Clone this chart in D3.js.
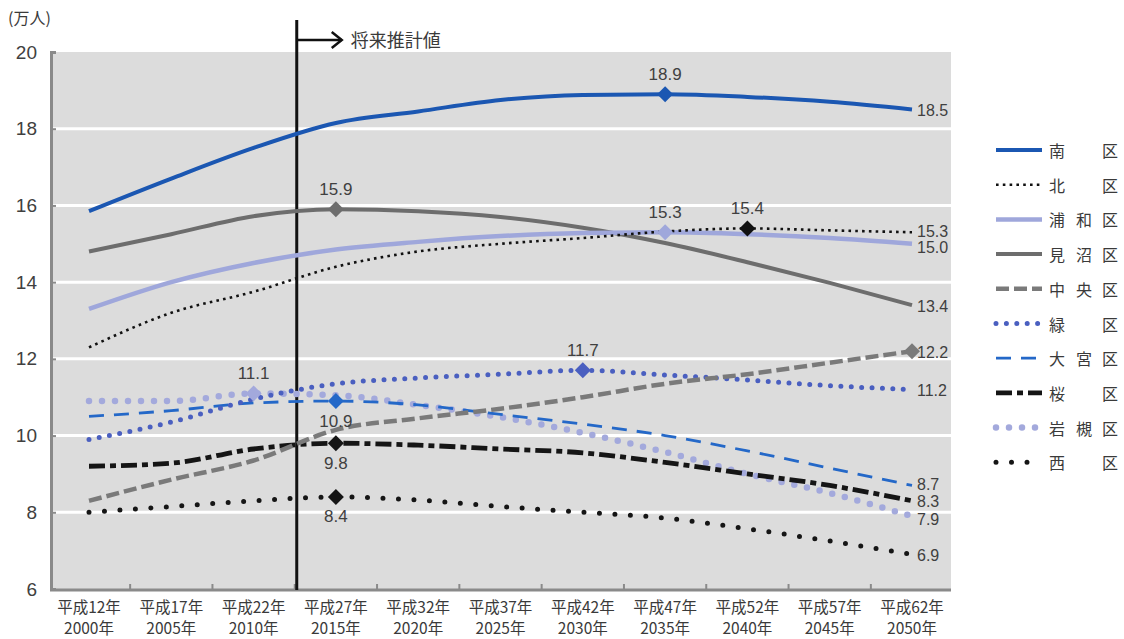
<!DOCTYPE html>
<html lang="ja">
<head>
<meta charset="utf-8">
<script src="https://cdn.jsdelivr.net/npm/d3@7/dist/d3.min.js"></script>
<style>
  html, body { margin: 0; padding: 0; background: #ffffff; }
  svg { display: block; }
  .num { font-family: "Liberation Sans", Arial, sans-serif; fill: #404040; }
  .jp { font-family: "Noto Sans CJK JP", "Noto Sans", sans-serif; fill: #3a3a3a; }
</style>
</head>
<body>
<svg id="chart" width="1124" height="639"></svg>
<script>
// Years on the x axis and their two-line labels
const years = ["2000", "2005", "2010", "2015", "2020", "2025", "2030", "2035", "2040", "2045", "2050"];
const eraLabels = ["平成12年", "平成17年", "平成22年", "平成27年", "平成32年", "平成37年", "平成42年", "平成47年", "平成52年", "平成57年", "平成62年"];
const yearLabels = ["2000年", "2005年", "2010年", "2015年", "2020年", "2025年", "2030年", "2035年", "2040年", "2045年", "2050年"];
const yTicks = [6, 8, 10, 12, 14, 16, 18, 20];

// Population by ward (10,000 persons)
const minami  = [15.85, 16.7, 17.5, 18.15, 18.45, 18.75, 18.88, 18.9, 18.83, 18.7, 18.5];
const kita    = [12.3, 13.2, 13.75, 14.4, 14.8, 15.0, 15.15, 15.32, 15.4, 15.35, 15.3];
const urawa   = [13.3, 14.0, 14.5, 14.85, 15.05, 15.2, 15.28, 15.3, 15.25, 15.15, 15.0];
const minuma  = [14.8, 15.25, 15.72, 15.9, 15.85, 15.7, 15.42, 15.02, 14.52, 13.98, 13.4];
const chuo    = [8.3, 8.85, 9.35, 10.15, 10.45, 10.7, 11.0, 11.35, 11.6, 11.9, 12.2];
const midori  = [9.9, 10.35, 10.95, 11.35, 11.5, 11.6, 11.7, 11.58, 11.45, 11.3, 11.2];
const omiya   = [10.5, 10.65, 10.85, 10.9, 10.8, 10.55, 10.3, 10.0, 9.6, 9.15, 8.7];
const sakura  = [9.2, 9.28, 9.65, 9.8, 9.75, 9.65, 9.55, 9.3, 9.0, 8.7, 8.3];
const iwatsuki = [10.9, 10.9, 11.1, 11.05, 10.8, 10.48, 10.07, 9.57, 9.0, 8.5, 7.9];
const nishi   = [8.0, 8.15, 8.3, 8.4, 8.32, 8.15, 8.0, 7.85, 7.57, 7.25, 6.9];

// Ward names as shown in the legend (first char, middle char, 区)
const wardNames = [["南", "", "区"], ["北", "", "区"], ["浦", "和", "区"], ["見", "沼", "区"], ["中", "央", "区"],
                   ["緑", "", "区"], ["大", "宮", "区"], ["桜", "", "区"], ["岩", "槻", "区"], ["西", "", "区"]];

// Highlighted points (year index) and where their value label sits
const highlightIndex = [7, 8, 7, 3, 10, 6, 3, 3, 2, 3];
const highlightPlace = ["above", "above", "above", "above", "right", "above", "below", "below", "above", "below"];

const seriesValues = [minami, kita, urawa, minuma, chuo, midori, omiya, sakura, iwatsuki, nishi];

// Line styles per ward
const styles = [
  { color: "#1b57b2", width: 4,   dash: null,        cap: "butt" },
  { color: "#111111", width: 2.6, dash: "2.6,4.2",   cap: "butt" },
  { color: "#9fa7db", width: 4.5, dash: null,        cap: "butt" },
  { color: "#6d6d6d", width: 4,   dash: null,        cap: "butt" },
  { color: "#7a7a7a", width: 4.5, dash: "13,5",      cap: "butt" },
  { color: "#4a5fc0", width: 5,   dash: "0,10.4",    cap: "round" },
  { color: "#2468c8", width: 2.8, dash: "15,10",     cap: "butt" },
  { color: "#151515", width: 4.8, dash: "16,5,6,5",  cap: "butt" },
  { color: "#a3a9dc", width: 6.5, dash: "0,13",      cap: "round" },
  { color: "#151515", width: 5,   dash: "0,15.5",    cap: "round" }
];

// Small vertical shifts so that crowded end labels stay apart
const endLabelShift = [1, -1, 4, 1, 1, 1, -1, 1, 3, 1];

const svg = d3.select("#chart");

const x = d3.scalePoint().domain(years).range([89, 912]);
const y = d3.scaleLinear().domain([6, 20]).range([589, 52]);

const plotLeft = 53, plotRight = 951;

// Plot background
svg.append("rect")
  .attr("x", plotLeft).attr("y", y(20))
  .attr("width", plotRight - plotLeft).attr("height", y(6) - y(20))
  .attr("fill", "#dcdcdc");

// White horizontal gridlines
svg.append("g").selectAll("line")
  .data(yTicks.filter(d => d > 6 && d < 20))
  .join("line")
  .attr("x1", plotLeft).attr("x2", plotRight)
  .attr("y1", d => y(d)).attr("y2", d => y(d))
  .attr("stroke", "#ffffff").attr("stroke-width", 3);

// Y axis with short inward ticks
const yAxis = d3.axisRight(y).tickValues(yTicks).tickSize(5).tickFormat("");
const gy = svg.append("g").attr("transform", `translate(${plotLeft - 2},0)`).call(yAxis);
gy.select(".domain").attr("stroke", "#8a8a8a").attr("stroke-width", 3);
gy.selectAll(".tick line").attr("stroke", "#8a8a8a").attr("stroke-width", 2);

svg.append("g").selectAll("text")
  .data(yTicks)
  .join("text")
  .attr("class", "num")
  .attr("x", 37).attr("y", d => y(d))
  .attr("text-anchor", "end").attr("dominant-baseline", "central")
  .attr("font-size", 19)
  .text(d => d);

// X axis baseline with ticks at category boundaries
const step = x.step();
const boundaries = years.slice(1).map(d => x(d) - step / 2);
svg.append("line")
  .attr("x1", plotLeft - 3).attr("x2", plotRight)
  .attr("y1", y(6) + 1).attr("y2", y(6) + 1)
  .attr("stroke", "#8a8a8a").attr("stroke-width", 3);
svg.append("g").selectAll("line")
  .data(boundaries)
  .join("line")
  .attr("x1", d => d).attr("x2", d => d)
  .attr("y1", y(6) + 1).attr("y2", y(6) - 5)
  .attr("stroke", "#8a8a8a").attr("stroke-width", 2);

// X labels
const xl = svg.append("g").selectAll("g").data(years).join("g")
  .attr("transform", d => `translate(${x(d)},0)`);
xl.append("text").attr("class", "jp").attr("text-anchor", "middle")
  .attr("y", 613).attr("font-size", 15.5).text((d, i) => eraLabels[i]);
xl.append("text").attr("class", "jp").attr("text-anchor", "middle")
  .attr("y", 634).attr("font-size", 15.5).text((d, i) => yearLabels[i]);

// Unit label
svg.append("text").attr("class", "jp").attr("x", 8).attr("y", 24)
  .attr("font-size", 16).text("(万人)");

// Projection divider and arrow
const divX = (x("2010") + x("2015")) / 2 + 2;
svg.append("line")
  .attr("x1", divX).attr("x2", divX).attr("y1", 20).attr("y2", y(6) + 1)
  .attr("stroke", "#111").attr("stroke-width", 3);
svg.append("line")
  .attr("x1", divX).attr("x2", divX + 45).attr("y1", 40).attr("y2", 40)
  .attr("stroke", "#111").attr("stroke-width", 2.5);
svg.append("path")
  .attr("d", `M${divX + 35},32 L${divX + 45},40 L${divX + 35},48`)
  .attr("fill", "none").attr("stroke", "#111").attr("stroke-width", 2.5);
svg.append("text").attr("class", "jp").attr("x", divX + 54).attr("y", 47)
  .attr("font-size", 18).text("将来推計値");

// Lines
const line = d3.line()
  .x((d, i) => x(years[i]))
  .y(d => y(d))
  .curve(d3.curveMonotoneX);

const drawOrder = [9, 8, 7, 6, 5, 4, 3, 2, 1, 0];
const gl = svg.append("g");
drawOrder.forEach(k => {
  const s = styles[k];
  gl.append("path")
    .datum(seriesValues[k])
    .attr("d", line)
    .attr("fill", "none")
    .attr("stroke", s.color)
    .attr("stroke-width", s.width)
    .attr("stroke-linecap", s.cap)
    .attr("stroke-linejoin", "round")
    .attr("stroke-dasharray", s.dash);
});

// Highlight diamonds with value labels
const diamond = (cx, cy, r) => `M${cx},${cy - r} L${cx + r},${cy} L${cx},${cy + r} L${cx - r},${cy} Z`;
const gm = svg.append("g");
seriesValues.forEach((vals, k) => {
  const idx = highlightIndex[k];
  if (idx === null) return;
  const cx = x(years[idx]), cy = y(vals[idx]);
  gm.append("path").attr("d", diamond(cx, cy, 8)).attr("fill", styles[k].color);
  const place = highlightPlace[k];
  if (place === "right") return;
  gm.append("text").attr("class", "num")
    .attr("x", cx)
    .attr("y", place === "above" ? cy - 20 : cy + 20)
    .attr("text-anchor", "middle").attr("dominant-baseline", "central")
    .attr("font-size", 17)
    .text(vals[idx].toFixed(1));
});

// End-of-line value labels
const ge = svg.append("g");
seriesValues.forEach((vals, k) => {
  const v = vals[vals.length - 1];
  ge.append("text").attr("class", "num")
    .attr("x", x(years[years.length - 1]) + 5)
    .attr("y", y(v) + endLabelShift[k])
    .attr("dominant-baseline", "central")
    .attr("font-size", 16)
    .text(v.toFixed(1));
});

// Legend
const legendTop = 150, legendStep = 34.7;
const lg = svg.append("g");
wardNames.forEach((chars, k) => {
  const ly = legendTop + k * legendStep;
  const s = styles[k];
  lg.append("line")
    .attr("x1", 996).attr("x2", 1042).attr("y1", ly).attr("y2", ly)
    .attr("stroke", s.color)
    .attr("stroke-width", s.width)
    .attr("stroke-linecap", s.cap)
    .attr("stroke-dasharray", s.dash);
  [1057, 1084, 1110].forEach((cx, j) => {
    if (!chars[j]) return;
    lg.append("text").attr("class", "jp")
      .attr("x", cx).attr("y", ly)
      .attr("text-anchor", "middle").attr("dominant-baseline", "central")
      .attr("font-size", 16)
      .text(chars[j]);
  });
});
</script>
</body>
</html>
